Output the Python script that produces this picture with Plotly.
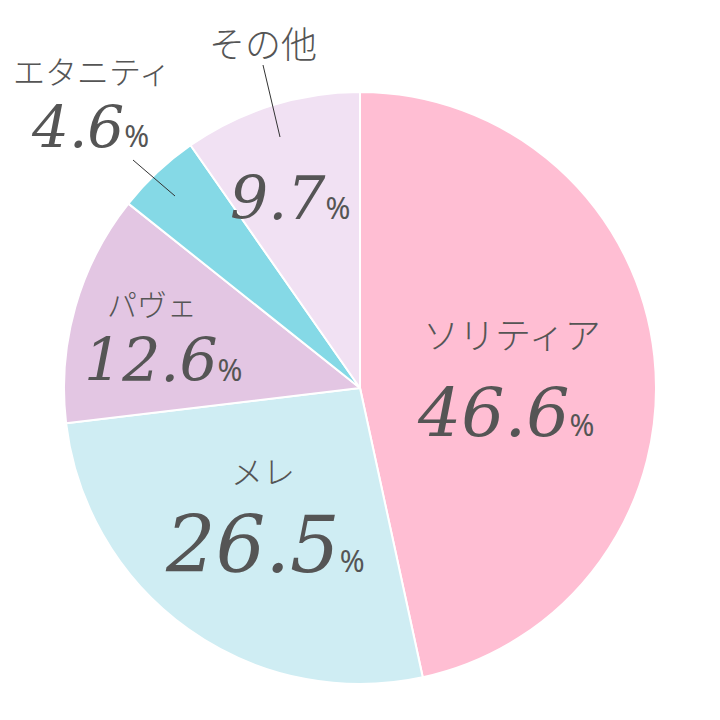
import plotly.graph_objects as go

categories = ["ソリティア", "メレ", "パヴェ", "エタニティ", "その他"]
values = [46.6, 26.5, 12.6, 4.6, 9.7]
colors = ["#FFBED3", "#CFEDF3", "#E3C6E3", "#85D9E6", "#F1E1F3"]

W = H = 720
OFF = 8  # page body margin
cx, cy, r = 360 - OFF, 388 - OFF, 296


def px(x):
    return (x - OFF) / W


def py(y):
    return 1 - (y - OFF) / H


fig = go.Figure(go.Pie(
    labels=categories, values=values, sort=False, direction="clockwise",
    rotation=0, marker=dict(colors=colors, line=dict(color="white", width=2)),
    textinfo="none", hoverinfo="label+percent", showlegend=False,
    domain=dict(x=[(cx - r) / W, (cx + r) / W], y=[1 - (cy + r) / H, 1 - (cy - r) / H]),
))

TXT = "#555555"
NUMFONT = "DejaVu Serif"
JPFONT = "Noto Sans CJK JP"

# label positions (pixels): (name_x, name_y, name_size, num_x, num_y, num_size)
pos = {
    "ソリティア": (512, 333, 36, 505, 412, 68),
    "メレ": (263, 470, 32, 265, 545, 78),
    "パヴェ": (152, 303, 30, 163, 360, 60),
    "エタニティ": (92, 70, 32, 90, 127, 58),
    "その他": (263, 42, 36, 290, 198, 60),
}

ann = []
for cat, val in zip(categories, values):
    nx, ny, ns, vx, vy, fs = pos[cat]
    ann.append(dict(x=px(nx), y=py(ny), xref="paper", yref="paper", showarrow=False,
                    xanchor="center", yanchor="middle",
                    text=cat, font=dict(family=JPFONT, size=ns, color=TXT, weight=300)))
    ann.append(dict(x=px(vx), y=py(vy), xref="paper", yref="paper", showarrow=False,
                    xanchor="center", yanchor="middle",
                    text=f"<i>{val}</i><span style='font-size:30px;font-family:Noto Sans'>%</span>",
                    font=dict(family=NUMFONT, size=fs, color=TXT)))

shapes = [
    dict(type="line", xref="paper", yref="paper", x0=px(133), y0=py(160), x1=px(175), y1=py(196),
         line=dict(color="#333333", width=1)),
    dict(type="line", xref="paper", yref="paper", x0=px(263), y0=py(65), x1=px(280), y1=py(137),
         line=dict(color="#333333", width=1)),
]

fig.update_layout(width=W, height=H, margin=dict(l=0, r=0, t=0, b=0),
                  paper_bgcolor="white", plot_bgcolor="white",
                  annotations=ann, shapes=shapes)
fig.write_html("out.html")
